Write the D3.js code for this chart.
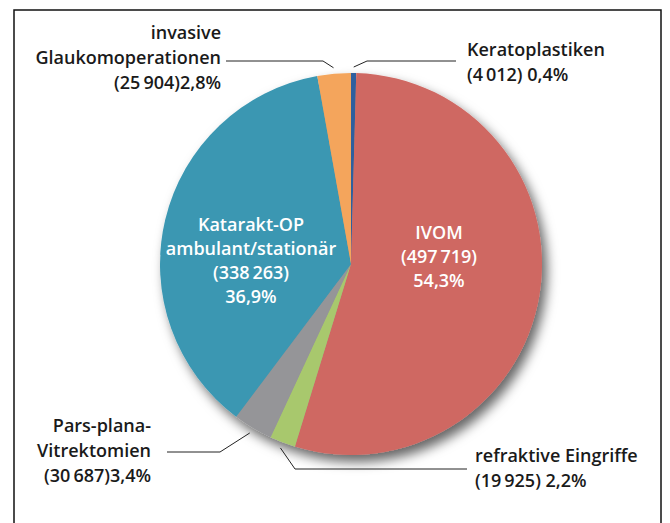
<!DOCTYPE html>
<html>
<head>
<meta charset="utf-8">
<script src="https://cdn.jsdelivr.net/npm/d3@7"></script>
<style>
  body { margin: 0; background: #fff; }
  text { font-family: "Open Sans", "Noto Sans", sans-serif; font-weight: 600; }
</style>
</head>
<body>
<div id="chart"></div>
<script>
// data, clockwise from 12 o'clock
const categories = [
  "Keratoplastiken",
  "IVOM",
  "refraktive Eingriffe",
  "Pars-plana-Vitrektomien",
  "Katarakt-OP",
  "invasive Glaukomoperationen"
];
const counts = [4012, 497719, 19925, 30687, 338263, 25904];
const percents = ["0,4%", "54,3%", "2,2%", "3,4%", "36,9%", "2,8%"];
const colors = ["#2f5f9e", "#cf6862", "#a8c86d", "#959598", "#3a97b2", "#f4a55b"];

const width = 670, height = 523;
const cx = 351, cy = 264, radius = 191;
const lineH = 25;

// label layout (text lines, anchor, position, leader elbow)
const numTxt = (i) => "(" + d3.format(",")(counts[i]).replace(/,/g, "\u2009") + ")";
const outside = [
  { i: 0, lines: ["Keratoplastiken", numTxt(0) + " " + percents[0]], anchor: "start", x: 467, y: 56, elbow: [367, 61], end: [456, 61] },
  { i: 2, lines: ["refraktive Eingriffe", numTxt(2) + " " + percents[2]], anchor: "start", x: 475, y: 462, elbow: [295, 469], end: [467, 469] },
  { i: 3, lines: ["Pars-plana-", "Vitrektomien", numTxt(3) + percents[3]], anchor: "end", x: 151, y: 432, elbow: [220, 452], end: [167, 452] },
  { i: 5, lines: ["invasive", "Glaukomoperationen", numTxt(5) + percents[5]], anchor: "end", x: 221, y: 39, elbow: [323, 61], end: [226, 61] }
];
const inside = [
  { i: 1, lines: ["IVOM", numTxt(1), percents[1]], x: 439, y: 239 },
  { i: 4, lines: ["Katarakt-OP", "ambulant/stationär", numTxt(4), percents[4]], x: 251, y: 231 }
];

const svg = d3.select("#chart").append("svg")
  .attr("width", width)
  .attr("height", height);

const defs = svg.append("defs");
const shadow = defs.append("filter")
  .attr("id", "shadow")
  .attr("x", "-20%").attr("y", "-20%")
  .attr("width", "140%").attr("height", "140%");
shadow.append("feDropShadow")
  .attr("dx", 5).attr("dy", 7)
  .attr("stdDeviation", 6)
  .attr("flood-color", "#000")
  .attr("flood-opacity", 0.6);

// frame
svg.append("rect")
  .attr("x", 14).attr("y", 10)
  .attr("width", 647).attr("height", 530)
  .attr("fill", "none")
  .attr("stroke", "#111")
  .attr("stroke-width", 1.5);

const pie = d3.pie().sort(null).value((d) => d);
const arcs = pie(counts);
const arc = d3.arc().innerRadius(0).outerRadius(radius);

const g = svg.append("g").attr("transform", `translate(${cx},${cy})`);

g.append("g")
  .attr("filter", "url(#shadow)")
  .selectAll("path")
  .data(arcs)
  .join("path")
  .attr("d", arc)
  .attr("fill", (d, i) => colors[i]);

// leader lines
const edge = d3.arc().innerRadius(radius + 6).outerRadius(radius + 6);
svg.append("g")
  .selectAll("polyline")
  .data(outside)
  .join("polyline")
  .attr("points", (d) => {
    const p = edge.centroid(arcs[d.i]);
    return [[p[0] + cx, p[1] + cy], d.elbow, d.end].map((q) => q.join(",")).join(" ");
  })
  .attr("fill", "none")
  .attr("stroke", "#222")
  .attr("stroke-width", 1);

// outside labels
svg.append("g")
  .selectAll("text")
  .data(outside)
  .join("text")
  .attr("x", (d) => d.x)
  .attr("y", (d) => d.y)
  .attr("text-anchor", (d) => d.anchor)
  .attr("fill", "#1a1a1a")
  .style("font-size", "18px")
  .each(function (d) {
    d3.select(this).selectAll("tspan")
      .data(d.lines)
      .join("tspan")
      .attr("x", d.x)
      .attr("dy", (t, j) => (j === 0 ? 0 : lineH))
      .text((t) => t);
  });

// inside labels
svg.append("g")
  .selectAll("text")
  .data(inside)
  .join("text")
  .attr("x", (d) => d.x)
  .attr("y", (d) => d.y)
  .attr("text-anchor", "middle")
  .attr("fill", "#fff")
  .style("font-size", "18px")
  .each(function (d) {
    d3.select(this).selectAll("tspan")
      .data(d.lines)
      .join("tspan")
      .attr("x", d.x)
      .attr("dy", (t, j) => (j === 0 ? 0 : 24))
      .text((t) => t);
  });
</script>
</body>
</html>
